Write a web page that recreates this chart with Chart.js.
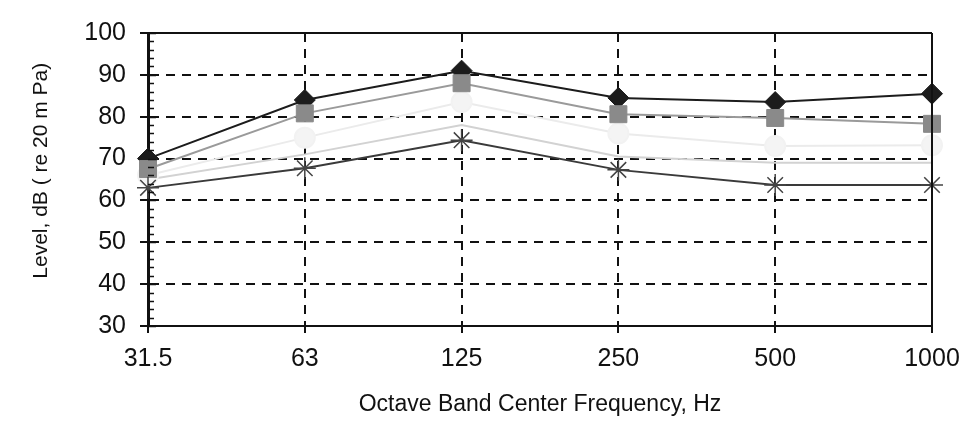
<!DOCTYPE html>
<html lang="en">
<head>
  <meta charset="UTF-8">
  <title>Octave Band Levels</title>
  <script src="https://cdn.jsdelivr.net/npm/chart.js"></script>
  <style>
    html, body {
      margin: 0;
      padding: 0;
      background: #fff;
    }
    #wrap {
      width: 976px;
      height: 424px;
    }
  </style>
</head>
<body>
  <div id="wrap"><canvas id="levelChart" width="976" height="424"></canvas></div>

  <script>
    // octave band centres (Hz) and levels
    const bands = ['31.5', '63', '125', '250', '500', '1000'];
    const seriesA = [70, 84, 91, 84.5, 83.5, 85.5];   // black diamonds
    const seriesB = [67.5, 80.8, 88, 80.6, 79.7, 78.3]; // grey squares
    const seriesC = [66, 75, 83.5, 76, 73, 73.2];      // very light
    const seriesD = [65, 71, 78, 70.5, 69, 69];        // light grey line
    const seriesE = [63, 67.7, 74.4, 67.3, 63.7, 63.7]; // stars
    const yTicks = [30, 40, 50, 60, 70, 80, 90, 100];

    const fontFam = 'Liberation Sans, Arial, sans-serif';

    // solid frame on top/right + small minor ticks on the y axis
    const framePlugin = {
      id: 'frame',
      afterDatasetsDraw(chart) {
        const { ctx, chartArea: a, scales: { y } } = chart;
        ctx.save();
        ctx.strokeStyle = '#111';
        ctx.lineWidth = 2;
        ctx.beginPath();
        ctx.moveTo(a.left - 8, a.top);
        ctx.lineTo(a.right, a.top);
        ctx.moveTo(a.right, a.top);
        ctx.lineTo(a.right, a.bottom);
        ctx.stroke();
        ctx.lineWidth = 1.5;
        ctx.beginPath();
        for (let v = 30; v <= 100; v += 2) {
          const py = Math.round(y.getPixelForValue(v)) + 0.5;
          const len = v % 10 === 0 ? 8 : 6;
          ctx.moveTo(a.left, py);
          ctx.lineTo(a.left + len, py);
        }
        ctx.stroke();
        ctx.restore();
      }
    };

    const ctx = document.getElementById('levelChart').getContext('2d');
    const chart = new Chart(ctx, {
      type: 'line',
      data: {
        labels: bands,
        datasets: [
          {
            label: 'A',
            data: seriesA,
            borderColor: '#1c1c1c',
            backgroundColor: '#1c1c1c',
            borderWidth: 2,
            pointStyle: 'rectRot',
            pointRadius: 10.5,
            pointBorderWidth: 1,
            order: 2
          },
          {
            label: 'B',
            data: seriesB,
            borderColor: '#9a9a9a',
            backgroundColor: '#8a8a8a',
            pointBorderColor: '#8a8a8a',
            borderWidth: 2,
            pointStyle: 'rect',
            pointRadius: 12,
            pointBorderWidth: 1,
            order: 1
          },
          {
            label: 'C',
            data: seriesC,
            borderColor: '#ebebeb',
            backgroundColor: '#f4f4f4',
            pointBorderColor: '#f2f2f2',
            borderWidth: 2,
            pointStyle: 'circle',
            pointRadius: 10,
            order: 3
          },
          {
            label: 'D',
            data: seriesD,
            borderColor: '#d2d2d2',
            backgroundColor: '#d2d2d2',
            borderWidth: 2,
            pointRadius: 0,
            order: 4
          },
          {
            label: 'E',
            data: seriesE,
            borderColor: '#3a3a3a',
            backgroundColor: '#3a3a3a',
            pointBorderColor: '#444',
            borderWidth: 2,
            pointStyle: 'star',
            pointRadius: 11,
            pointBorderWidth: 1.5,
            order: 0
          }
        ]
      },
      options: {
        responsive: false,
        animation: false,
        layout: { padding: { top: 33, right: 44, left: 0, bottom: 0 } },
        plugins: {
          legend: { display: false },
          tooltip: { enabled: false }
        },
        elements: { line: { tension: 0 } },
        scales: {
          x: {
            type: 'category',
            offset: false,
            grid: {
              color: '#111',
              lineWidth: 2,
              tickLength: 7
            },
            border: { display: true, color: '#111', width: 2, dash: [9, 7] },
            ticks: {
              color: '#111',
              padding: 11,
              maxRotation: 0,
              font: { family: fontFam, size: 25 }
            },
            title: {
              display: true,
              text: 'Octave Band Center Frequency, Hz',
              color: '#111',
              padding: { top: 0, bottom: 6 },
              font: { family: fontFam, size: 23 }
            },
            afterFit(scale) { scale.height = 98; }
          },
          y: {
            min: 30,
            max: 100,
            afterBuildTicks(scale) {
              scale.ticks = yTicks.map(v => ({ value: v }));
            },
            grid: {
              color: '#111',
              lineWidth: 2,
              tickLength: 8
            },
            border: { display: true, color: '#111', width: 3, dash: [9, 7] },
            ticks: {
              color: '#111',
              padding: 14,
              font: { family: fontFam, size: 25 }
            },
            title: {
              display: true,
              text: '   Level, dB ( re 20 m Pa)',
              color: '#111',
              padding: { top: 29, bottom: 0 },
              font: { family: fontFam, size: 21 }
            },
            afterFit(scale) { scale.width = 148; }
          }
        }
      },
      plugins: [framePlugin]
    });
  </script>
</body>
</html>
